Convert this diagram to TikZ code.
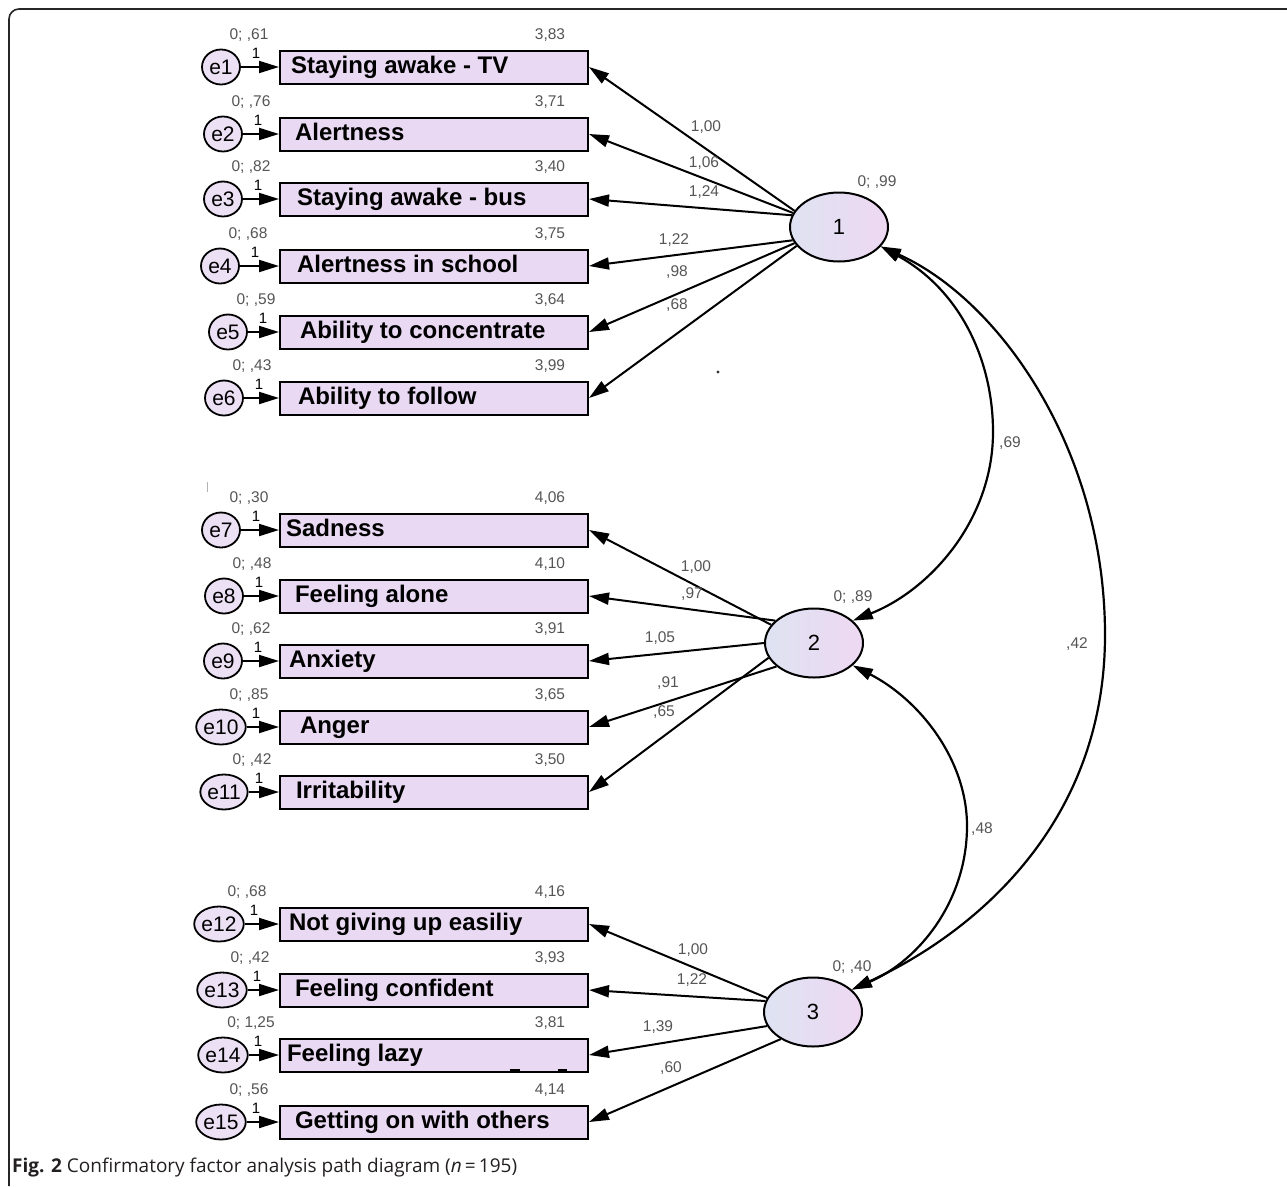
\documentclass[tikz,border=0pt]{standalone}
\usepackage{fontspec}
\setmainfont{Liberation Sans}
\newfontfamily\capfont{Open Sans}
\usetikzlibrary{arrows.meta,shapes.geometric}
\definecolor{boxfill}{RGB}{233,217,243}
\definecolor{efill}{RGB}{236,224,244}
\definecolor{latL}{RGB}{222,227,242}
\definecolor{latR}{RGB}{238,216,242}
\definecolor{numgrey}{RGB}{85,85,85}
\definecolor{capcol}{RGB}{35,31,32}
\tikzset{
  box/.style={draw=black, line width=2pt, fill=boxfill, inner sep=0pt, minimum height=33pt,
     anchor=west, text height=17pt, text depth=5pt, font=\fontsize{24}{24}\selectfont\bfseries},
  errc/.style={ellipse, draw=black, line width=1.8pt, fill=efill, minimum width=38pt, minimum height=35pt,
     inner sep=0pt, font=\fontsize{21}{21}\selectfont},
  lat/.style={ellipse, draw=black, line width=2pt, left color=latL, right color=latR,
     minimum width=98pt, minimum height=69pt, inner sep=0pt, font=\fontsize{22}{22}\selectfont},
  num/.style={inner sep=0pt, text=numgrey, font=\fontsize{15.5}{16}\selectfont},
  one/.style={inner sep=0pt, text=black, font=\fontsize{15}{15}\selectfont},
  earrow/.style={line width=2pt, -{Triangle[length=20pt,width=12pt]}},
  load/.style={line width=2pt, -{Triangle[length=20pt,width=12pt]}},
  cov/.style={line width=2.2pt, {Triangle[length=20pt,width=12pt]}-{Triangle[length=20pt,width=12pt]}},
}
\newcommand{\mkrow}[7]{%
  \node[box] (b#1) at (279,#2) {\makebox[308pt][l]{\hspace{#4pt}#5}};
  \node[errc] (e#1) at (#3,#2) {e#1};
  \draw[earrow] (e#1.east) -- (b#1.west);
  \node[num] (v#1) at ([xshift=28pt,yshift=32pt]#3,#2) {#6};
  \node[num] (m#1) at ([yshift=32pt]550,#2) {#7};
  \node[one] (o#1) at ([xshift=35pt,yshift=14pt]#3,#2) {1};
}
\begin{document}
\begin{tikzpicture}[x=1pt,y=-1pt]
\useasboundingbox (0,0) rectangle (1287,1186);
% frame
\draw[line width=1.6pt, draw=black!85, rounded corners=10pt] (1287,9) -- (9,9) -- (9,1186);

% rows
\mkrow{1}{67}{221}{11}{Staying awake - TV}{0; ,61}{3,83}
\mkrow{2}{134}{223}{15}{Alertness}{0; ,76}{3,71}
\mkrow{3}{199}{223}{17}{Staying awake - bus}{0; ,82}{3,40}
\mkrow{4}{266}{220}{17}{Alertness in school}{0; ,68}{3,75}
\mkrow{5}{332}{228}{20}{Ability to concentrate}{0; ,59}{3,64}
\mkrow{6}{398}{224}{18}{Ability to follow}{0; ,43}{3,99}
\mkrow{7}{530}{221}{6}{Sadness}{0; ,30}{4,06}
\mkrow{8}{596}{224}{15}{Feeling alone}{0; ,48}{4,10}
\mkrow{9}{661}{223}{9}{Anxiety}{0; ,62}{3,91}
\mkrow{10}{727}{221}{20}{Anger}{0; ,85}{3,65}
\mkrow{11}{792}{224}{16}{Irritability}{0; ,42}{3,50}
\mkrow{12}{924}{219}{9}{Not giving up easiliy}{0; ,68}{4,16}
\mkrow{13}{990}{222}{15}{Feeling confident}{0; ,42}{3,93}
\mkrow{14}{1055}{223}{7}{Feeling lazy}{0; 1,25}{3,81}
\mkrow{15}{1122}{221}{15}{Getting on with others}{0; ,56}{4,14}

% marks in Feeling lazy box
\draw[line width=1.2pt] (510,1070) -- (520,1070);
\draw[line width=1.2pt] (558,1070) -- (567,1070);
% stray marks
\fill[black!80] (718,372) circle (1.6pt);
\draw[line width=1pt, draw=black!30] (207,482) -- (207,492);

% latent variables
\node[lat] (L1) at (839,227) {1};
\node[lat] (L2) at (814,643) {2};
\node[lat] (L3) at (813,1012) {3};
\node[num] (vL1) at (877,182) {0; ,99};
\node[num] (vL2) at (853,597) {0; ,89};
\node[num] (vL3) at (852,967) {0; ,40};

% loadings factor 1
\draw[load] (L1.160) -- (b1.east);
\draw[load] (L1.163) -- (b2.east);
\draw[load] (L1.166) -- (b3.east);
\draw[load] (L1.196) -- (b4.east);
\draw[load] (L1.200) -- (b5.east);
\draw[load] (L1.204) -- (b6.east);
\node[num] (l1) at (706,127) {1,00};
\node[num] (l2) at (704,163) {1,06};
\node[num] (l3) at (704,192) {1,24};
\node[num] (l4) at (674,240) {1,22};
\node[num] (l5) at (677,272) {,98};
\node[num] (l6) at (677,305) {,68};

% loadings factor 2
\draw[load] (L2.157) -- (b7.east);
\draw[load] (L2.150) -- (b8.east);
\draw[load] (L2.180) -- (b9.east);
\draw[load] (L2.212) -- (b10.east);
\draw[load] (L2.198) -- (b11.east);
\node[num] (l7) at (696,567) {1,00};
\node[num] (l8) at (692,594) {,97};
\node[num] (l9) at (660,638) {1,05};
\node[num] (l10) at (668,683) {,91};
\node[num] (l11) at (664,712) {,65};

% loadings factor 3
\draw[load] (L3.163) -- (b12.east);
\draw[load] (L3.167) -- (b13.east);
\draw[load] (L3.197) -- (b14.east);
\draw[load] (L3.220) -- (b15.east);
\node[num] (l12) at (693,950) {1,00};
\node[num] (l13) at (692,980) {1,22};
\node[num] (l14) at (658,1027) {1,39};
\node[num] (l15) at (671,1068) {,60};

% covariances
\draw[cov] (L1.-25) .. controls (960,290) and (993,360) .. (993,432)
                    .. controls (993,520) and (930,590) .. (L2.30);
\draw[cov] (L1.-25) .. controls (1000,300) and (1105,450) .. (1105,635)
                    .. controls (1105,820) and (980,930) .. (L3.30);
\draw[cov] (L2.-30) .. controls (920,700) and (967,760) .. (967,826)
                    .. controls (967,900) and (920,960) .. (L3.30);
\node[num] (c12) at (1010,443) {,69};
\node[num] (c13) at (1077,644) {,42};
\node[num] (c23) at (982,829) {,48};

% caption
\node[anchor=west, inner sep=0pt, text=capcol, font=\capfont\fontsize{19}{19}\selectfont] (cap) at (12,1167)
  {\textbf{Fig. 2} Confirmatory factor analysis path diagram (\textit{n}\,=\,195)};
\end{tikzpicture}
\end{document}
